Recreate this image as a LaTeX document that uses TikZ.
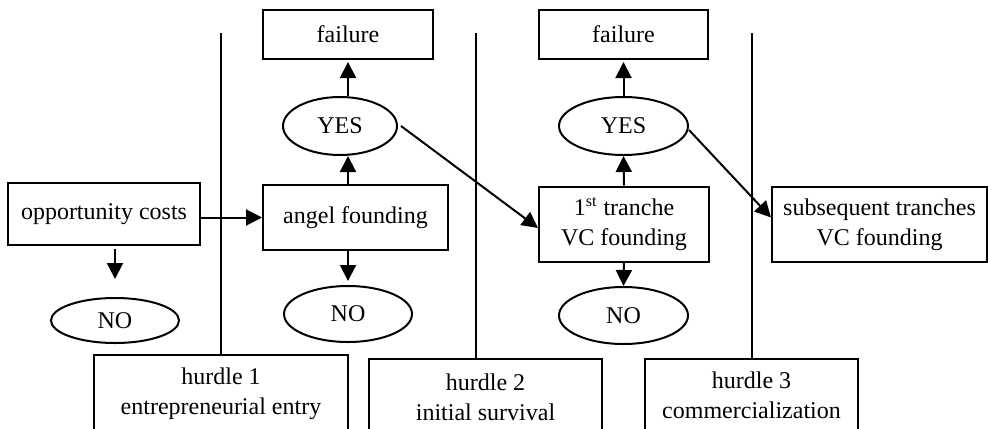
\documentclass[tikz,border=0pt]{standalone}
\usepackage{fontspec}
\setmainfont{Liberation Serif}
\usetikzlibrary{shapes.geometric,arrows.meta}
\tikzset{
  box/.style={draw, line width=1pt, inner sep=0pt, align=center,
              font=\fontsize{12}{15}\selectfont},
  oval/.style={draw, ellipse, line width=1pt, inner sep=0pt,
               font=\fontsize{12}{15}\selectfont},
  arr/.style={line width=1pt, -{Triangle[length=8pt,width=8pt]}},
  divider/.style={line width=1pt}
}
\begin{document}
\begin{tikzpicture}[x=0.5pt,y=-0.5pt]
\useasboundingbox (0,0) rectangle (988,428);
\clip (0,0) rectangle (988,428);
% boxes
\node[box, minimum width=96pt, minimum height=31pt] (opp) at (104,214) {opportunity costs};
\node[box, minimum width=92.5pt, minimum height=32.5pt] (angel) at (355.5,217.5) {angel founding};
\node[box, minimum width=85pt, minimum height=24.5pt] (fail1) at (348,34.5) {failure};
\node[box, minimum width=84.5pt, minimum height=24.5pt] (fail2) at (623.5,34.5) {failure};
\node[box, minimum width=85pt, minimum height=37.5pt] (tranche) at (624,224) {1\textsuperscript{st} tranche\\VC founding};
\node[box, minimum width=107.5pt, minimum height=37.5pt] (subs) at (879.5,224.5) {subsequent tranches\\VC founding};
% ovals
\node[oval, minimum width=57pt, minimum height=29pt] (yes1) at (340,126) {YES};
\node[oval, minimum width=64.5pt, minimum height=29pt] (yes2) at (623.5,126) {YES};
\node[oval, minimum width=64pt, minimum height=22.5pt] (no1) at (115,320.5) {NO};
\node[oval, minimum width=64pt, minimum height=28pt] (no2) at (348,314) {NO};
\node[oval, minimum width=64.5pt, minimum height=28.5pt] (no3) at (623.5,315.5) {NO};
% hurdles
\node[box, anchor=north, minimum width=127pt, minimum height=38.5pt] (h1) at (221,354) {hurdle 1\\entrepreneurial entry};
\node[box, anchor=north, minimum width=116.5pt, minimum height=38pt] (h2) at (485.5,358) {hurdle 2\\initial survival};
\node[box, anchor=north, minimum width=106.5pt, minimum height=36pt] (h3) at (751.5,358) {hurdle 3\\commercialization};
% dividers
\coordinate (v1) at (221,33);
\coordinate (v2) at (476,33);
\coordinate (v3) at (751.5,33);
\draw[divider] (v1) -- (h1.north);
\draw[divider] (v2) -- (v2 |- h2.north);
\draw[divider] (v3) -- (h3.north);
% arrows
\draw[arr] (opp.east |- angel.west) -- (angel.west);
\draw[arr, shorten <=1.5pt, shorten >=9pt] (opp.south -| no1.north) -- (no1.north);
\draw[arr, shorten >=2pt] (angel.south -| no2.north) -- (no2.north);
\draw[arr] (angel.north -| fail1.south) -- (yes1.south -| fail1.south);
\draw[arr, shorten >=1pt] (yes1.north -| fail1.south) -- (fail1.south);
\draw[arr] (tranche.south) -- (no3.north);
\draw[arr] (tranche.north) -- (yes2.south);
\draw[arr, shorten >=1pt] (yes2.north) -- (fail2.south);
\draw[arr] ([xshift=1.5pt]yes1.east) -- ([yshift=-2pt]tranche.west);
\draw[arr] ([yshift=-2pt]yes2.east) -- ([yshift=3.5pt]subs.west);
\end{tikzpicture}
\end{document}
